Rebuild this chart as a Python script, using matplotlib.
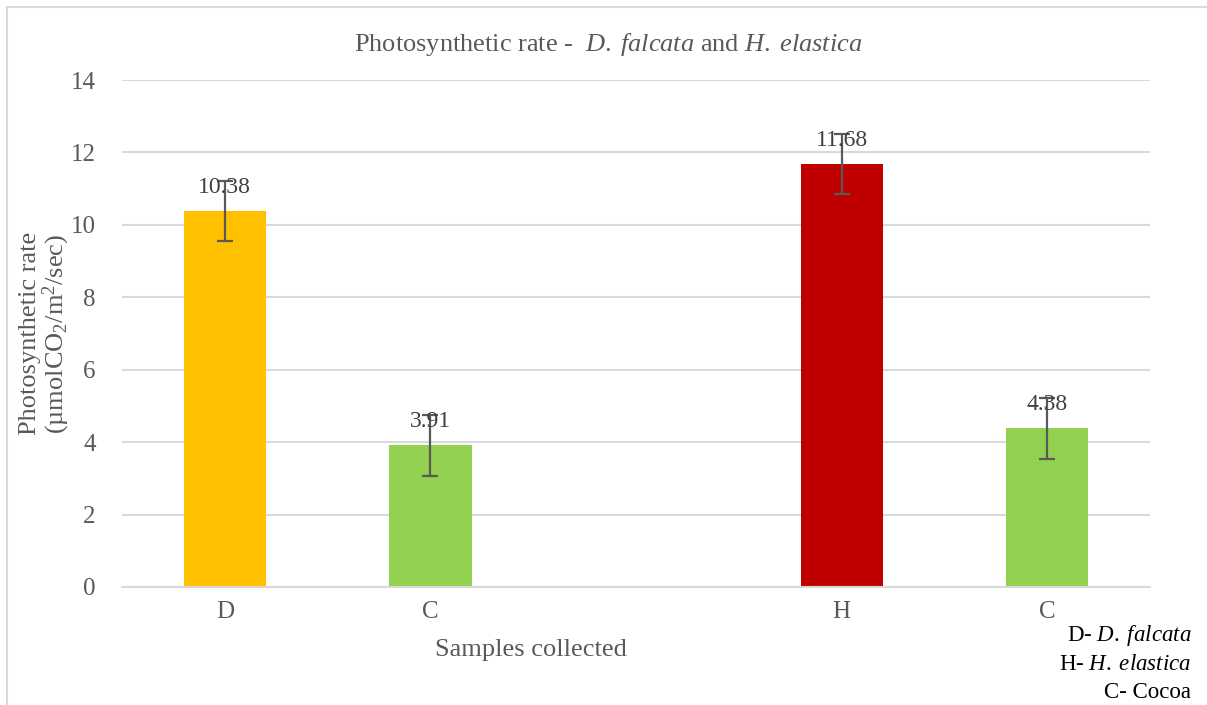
import numpy as np
import matplotlib.pyplot as plt
from matplotlib.lines import Line2D

plt.rcParams['font.family'] = ['Liberation Serif', 'DejaVu Serif']
plt.rcParams['mathtext.fontset'] = 'custom'
plt.rcParams['mathtext.rm'] = 'Liberation Serif'
plt.rcParams['mathtext.it'] = 'Liberation Serif:italic'

# data
categories = ['D', 'C', '', 'H', 'C']
values = [10.38, 3.91, np.nan, 11.68, 4.38]
errors = [0.83, 0.84, np.nan, 0.83, 0.85]
colors = ['#FFC000', '#92D050', 'none', '#C00000', '#92D050']
value_labels = ['10.38', '3.91', '', '11.68', '4.38']

grey = '#595959'
grid_col = '#d9d9d9'

fig = plt.figure(figsize=(12.07, 7.05), dpi=100)
ax = fig.add_axes([0.1011, 0.1674, 0.8517, 0.7191])

x = np.arange(len(categories))
ax.bar(x, values, width=0.4, color=colors, zorder=2)
ax.errorbar(x, values, yerr=errors, fmt='none', ecolor=grey, elinewidth=1.6,
            capsize=6, capthick=1.6, zorder=3)
for xi, v, lab in zip(x, values, value_labels):
    if lab:
        ax.text(xi, v + 0.66, lab, ha='center', va='center', fontsize=17, color='#404040', zorder=4)

ax.set_xlim(-0.5, 4.5)
ax.set_ylim(0, 14)
ax.set_yticks(np.arange(0, 15, 2))
ax.set_xticks(x)
ax.set_xticklabels(categories)
ax.tick_params(axis='both', length=0, labelsize=18, labelcolor=grey)
ax.tick_params(axis='y', pad=19)
ax.tick_params(axis='x', pad=10)
ax.yaxis.grid(True, color=grid_col, linewidth=1.5, zorder=0)
ax.set_axisbelow(True)
for s in ['top', 'right', 'left']:
    ax.spines[s].set_visible(False)
ax.spines['bottom'].set_color(grid_col)
ax.spines['bottom'].set_linewidth(1.5)

ax.set_xlabel('Samples collected', fontsize=19, color=grey, labelpad=4)
ax.xaxis.set_label_coords(0.398, -0.102)
ax.set_ylabel('Photosynthetic rate\n(µmolCO$_2$/m$^2$/sec)', fontsize=19, color=grey,
              linespacing=0.95)
ax.yaxis.set_label_coords(-0.049, 0.5)

fig.text(0.504, 0.937, r'Photosynthetic rate -  $\it{D.\;falcata}$ and $\it{H.\;elastica}$',
         ha='center', va='center', fontsize=19, color=grey)

legend_lines = [r'D- $\it{D.\;falcata}$', r'H- $\it{H.\;elastica}$', 'C- Cocoa']
for i, t in enumerate(legend_lines):
    fig.text(0.987, 1 - (636 + 28 * i) / 705, t, ha='right', va='center', fontsize=16.5, color='black')

# chart border (partly cropped)
fig.add_artist(Line2D([7 / 1207, 7 / 1207], [0, 1 - 7 / 705], color=grid_col, lw=1.5))
fig.add_artist(Line2D([7 / 1207, 1], [1 - 7 / 705, 1 - 7 / 705], color=grid_col, lw=1.5))

fig.savefig('out.png', dpi=100)
